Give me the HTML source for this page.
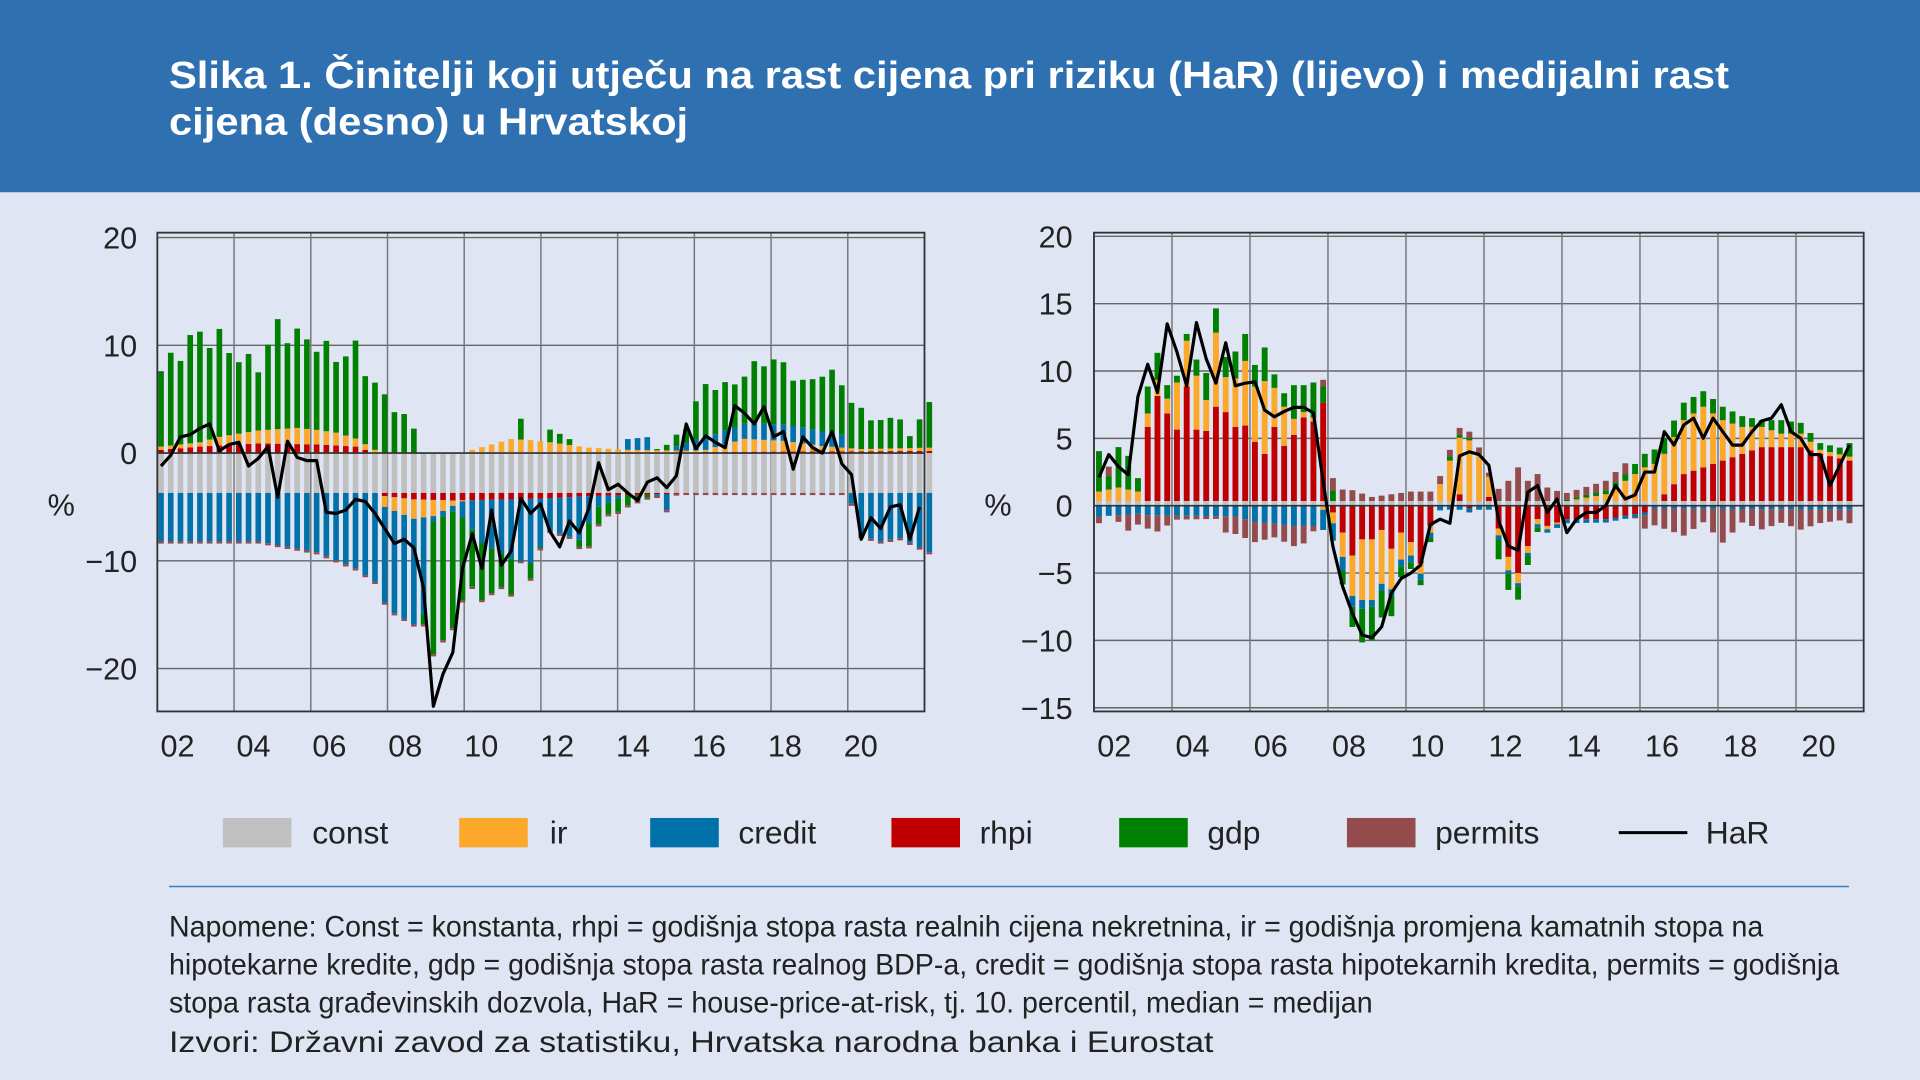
<!DOCTYPE html>
<html><head><meta charset="utf-8">
<style>
html,body{margin:0;padding:0;background:#dfe5f3;}
svg{display:block;}
text{font-family:"Liberation Sans",sans-serif;}
</style></head>
<body>
<svg id="s" width="1920" height="1080" viewBox="0 0 1568 882" xmlns="http://www.w3.org/2000/svg">
<rect x="0" y="0" width="1568" height="882" fill="#dfe5f3"/>
<rect x="0" y="0" width="1568" height="157" fill="#2f70b1"/>
<text x="138" y="72" font-size="31" font-weight="bold" fill="#fff" textLength="1274" lengthAdjust="spacingAndGlyphs">Slika 1. Činitelji koji utječu na rast cijena pri riziku (HaR) (lijevo) i medijalni rast</text>
<text x="138" y="110" font-size="31" font-weight="bold" fill="#fff" textLength="424" lengthAdjust="spacingAndGlyphs">cijena (desno) u Hrvatskoj</text>
<g id="charts"></g>
<g font-size="26" fill="#222">
<rect x="182" y="668" width="56" height="24" fill="#c0c0c0"/><text x="255" y="689">const</text>
<rect x="375" y="668" width="56" height="24" fill="#fba82b"/><text x="449" y="689">ir</text>
<rect x="531" y="668" width="56" height="24" fill="#0071a9"/><text x="603" y="689">credit</text>
<rect x="728" y="668" width="56" height="24" fill="#c00000"/><text x="800" y="689">rhpi</text>
<rect x="914" y="668" width="56" height="24" fill="#008000"/><text x="986" y="689">gdp</text>
<rect x="1100" y="668" width="56" height="24" fill="#944b4b"/><text x="1172" y="689">permits</text>
<line x1="1322" y1="680" x2="1378" y2="680" stroke="#000" stroke-width="2.5"/><text x="1393" y="689">HaR</text>
</g>
<line x1="138" y1="724" x2="1510" y2="724" stroke="#3a7cc0" stroke-width="1.2"/>
<g font-size="24" fill="#222">
<text x="138" y="765" textLength="1302" lengthAdjust="spacingAndGlyphs">Napomene: Const = konstanta, rhpi = godišnja stopa rasta realnih cijena nekretnina, ir = godišnja promjena kamatnih stopa na</text>
<text x="138" y="796" textLength="1364" lengthAdjust="spacingAndGlyphs">hipotekarne kredite, gdp = godišnja stopa rasta realnog BDP-a, credit = godišnja stopa rasta hipotekarnih kredita, permits = godišnja</text>
<text x="138" y="827" textLength="983" lengthAdjust="spacingAndGlyphs">stopa rasta građevinskih dozvola, HaR = house-price-at-risk, tj. 10. percentil, median = medijan</text>
<text x="138" y="859" textLength="853" lengthAdjust="spacingAndGlyphs">Izvori: Državni zavod za statistiku, Hrvatska narodna banka i Eurostat</text>
</g>
</svg>
<script>
(function(){
var NS="http://www.w3.org/2000/svg",G=document.getElementById("charts");
function el(t,a,txt){var e=document.createElementNS(NS,t);for(var k in a)e.setAttribute(k,a[k]);if(txt!=null)e.textContent=txt;G.appendChild(e);return e;}
function interp(kf,n){var o=[];for(var i=0;i<n;i++){var v=kf[kf.length-1][1];for(var j=0;j<kf.length-1;j++){if(i>=kf[j][0]&&i<=kf[j+1][0]){var t=(i-kf[j][0])/(kf[j+1][0]-kf[j][0]||1);v=kf[j][1]+t*(kf[j+1][1]-kf[j][1]);break;}}o.push(v);}return o;}
var COL={c:"#c0c0c0",r:"#c00000",i:"#fba82b",b:"#0071a9",g:"#008000",p:"#944b4b"};
function chart(o){
 var Y=function(v){return o.y0-v*o.k;};
 o.yt.forEach(function(v){el("line",{x1:o.L,x2:o.R,y1:Y(v),y2:Y(v),stroke:"#666","stroke-width":1.2});
   el("text",{x:o.lx,y:Y(v)+9,"font-size":25,"text-anchor":"end",fill:"#222"},(v<0?"\u2212"+(-v):""+v));});
 for(var k=1;k<10;k++){var x=o.L+k*o.gs;if(x<o.R-2)el("line",{x1:x,x2:x,y1:o.T,y2:o.B,stroke:"#777","stroke-width":1.2});}
 o.xl.forEach(function(s,j){el("text",{x:o.xl0+j*o.xs,y:618,"font-size":25,"text-anchor":"middle",fill:"#222"},s);});
 el("text",{x:o.px,y:421,"font-size":25,"text-anchor":"middle",fill:"#222"},"%");
 var n=o.n,d=o.d,order=["c","r","i","b","g","p"];
 for(var i=0;i<n;i++){var pos=0,neg=0,x=o.x0+i*o.bs;
  order.forEach(function(c){var v=d[c][i];if(Math.abs(v)<0.05)return;var y1,h;
   if(v>0){y1=Y(pos+v);h=v*o.k;pos+=v;}else{y1=Y(neg);h=-v*o.k;neg+=v;}
   el("rect",{x:x-o.bw/2,y:y1,width:o.bw,height:h,fill:COL[c]});});}
 el("line",{x1:o.L,x2:o.R,y1:Y(0),y2:Y(0),stroke:"#333","stroke-width":1.3});
 var pts=o.har.map(function(v,i){return (o.x0+i*o.bs).toFixed(1)+","+Y(v).toFixed(1);}).join(" ");
 el("polyline",{points:pts,fill:"none",stroke:"#000","stroke-width":2.6,"stroke-linejoin":"round"});
 el("rect",{x:o.L,y:o.T,width:o.R-o.L,height:o.B-o.T,fill:"none",stroke:"#333","stroke-width":1.5});
}
var nL=80;
var dL={
 c:interp([[0,-3.7],[79,-3.7]],nL),
 b:interp([[0,-4.5],[10,-4.5],[16,-5.5],[20,-7],[24,-9.5],[26,-9.8],[27,-9],[28,-0.5],[30,-0.5],[31,-1.5],[33,-4],[36,-5.5],[38,-6],[40,-3],[43,-4],[45,-1],[47,-0.3],[48,1],[50,1.2],[52,-1.5],[53,0.4],[55,1],[58,1.3],[62,1.5],[66,1.5],[70,1.2],[71,-1],[72,-4],[74,-4.5],[76,-4.2],[79,-5.5]],nL),
 g:interp([[0,7],[2,8.8],[4,10],[6,9],[8,7],[10,6],[12,9.5],[14,8.5],[16,8],[18,7],[20,8.2],[22,6],[24,4.3],[26,2.3],[27,-1],[28,-11],[29,-12.5],[30,-11],[31,-7],[32,-6],[34,-4],[36,-3],[37,2],[38,-1.5],[40,1.3],[42,0.5],[44,-2],[46,-1.2],[48,-1],[52,0.5],[54,1.5],[56,5],[58,4],[60,4.5],[62,6],[64,5.5],[66,4],[68,5.5],[70,5],[72,3.5],[74,2.5],[76,3],[77,1],[79,4.5]],nL),
 i:interp([[0,0.3],[4,0.4],[6,0.8],[10,1.2],[14,1.5],[18,1.2],[22,0.3],[23,-1],[26,-1.8],[28,-1.5],[30,-0.5],[32,0.3],[34,0.8],[36,1.3],[38,1.2],[40,1],[44,0.5],[48,0.3],[56,0.2],[60,1.2],[64,1],[68,0.5],[72,0.2],[79,0.3]],nL),
 r:interp([[0,0.3],[4,0.6],[10,0.9],[16,0.8],[20,0.6],[23,-0.3],[26,-0.6],[30,-0.7],[36,-0.6],[40,-0.5],[44,-0.3],[48,-0.2],[52,-0.1],[56,0.1],[79,0.2]],nL),
 p:interp([[0,-0.2],[79,-0.2]],nL)
};
for(var i=0;i<nL;i++){dL.g[i]*=1+0.12*Math.sin(i*2.3);}
var harL=[-1.2,-0.2,1.5,1.7,2.3,2.7,0.2,0.8,1.0,-1.2,-0.5,0.6,-4.1,1.1,-0.4,-0.7,-0.7,-5.5,-5.6,-5.3,-4.3,-4.5,-5.6,-7.0,-8.4,-8.0,-8.8,-12.5,-23.5,-20.5,-18.5,-10.7,-7.5,-10.7,-5.3,-10.4,-9.1,-4.2,-5.6,-4.7,-7.3,-8.7,-6.3,-7.4,-5.1,-0.9,-3.4,-2.9,-3.7,-4.4,-2.7,-2.3,-3.2,-2.1,2.7,0.4,1.6,1.0,0.5,4.4,3.7,2.7,4.3,1.5,2,-1.5,1.5,0.5,0,2,-1,-2,-8,-6,-7,-5,-4.8,-8,-5];
chart({L:128.5,R:755,T:190,B:581,y0:370,k:8.8,yt:[20,10,0,-10,-20],lx:112,gs:62.65,
 xl:["02","04","06","08","10","12","14","16","18","20"],xl0:145,xs:62,px:50,
 n:nL,d:dL,x0:131.5,bs:(751-131.5)/(harL.length-1),bw:4.6,har:harL});
var nR=78;
var dR={
 c:interp([[0,0.35],[77,0.35]],nR),
 r:interp([[0,0],[4,0],[5,5.5],[6,7.8],[7,6.5],[8,5.3],[9,8.5],[10,5.3],[11,5.2],[12,7],[13,6.6],[14,5.5],[15,5.6],[16,4.4],[17,3.5],[18,5.5],[19,4.1],[20,4.9],[21,6.2],[22,5.9],[23,7.3],[24,-0.5],[25,-2],[26,-3.7],[27,-2.5],[28,-2.5],[29,-1.8],[30,-3.2],[31,-2],[32,-2.7],[33,-4.3],[34,-1.5],[35,0],[36,0],[37,0.5],[38,-0.2],[39,0],[40,0.3],[41,-1.7],[42,-3.8],[43,-5],[44,-3],[45,-1],[46,-1.5],[48,-1],[52,-1],[56,-0.5],[58,0.5],[60,2],[64,3],[68,4],[72,4],[74,3.5],[77,3]],nR),
 i:interp([[0,0.7],[2,1],[4,0.7],[5,1],[6,1.2],[7,1.1],[8,3.5],[9,3.4],[10,4],[11,2.3],[12,5.5],[13,2.6],[14,3.6],[15,4.8],[16,4.1],[17,5.4],[18,2.9],[19,2.9],[20,1.2],[21,0.4],[22,0.3],[23,-0.3],[24,-0.8],[25,-1.8],[26,-3],[27,-4.5],[28,-4.5],[29,-4],[30,-3],[31,-2],[32,-1],[34,-0.5],[36,3],[37,4.2],[38,4.5],[39,3.5],[40,1.5],[41,-0.5],[42,-1],[44,-0.5],[48,0],[52,0.5],[54,1.5],[56,2.5],[58,3],[60,4],[62,4.5],[64,3],[66,2],[68,1.5],[70,1],[72,1],[74,0.3],[77,0.3]],nR),
 g:interp([[0,3],[1,1],[2,3],[3,2.5],[4,1],[5,2],[6,2],[7,1],[8,0.5],[9,0.5],[10,1.2],[11,2],[12,1.8],[13,1.5],[14,2],[15,2],[16,1.6],[17,2.5],[18,1],[19,1],[20,2.5],[21,2],[22,2.6],[23,1.2],[24,0.8],[25,-1],[26,-1.5],[27,-2.5],[28,-2.5],[29,-2],[30,-1.5],[31,-0.8],[32,-0.5],[34,-0.3],[36,0.3],[40,0],[41,-1.5],[42,-1.2],[43,-1],[44,-0.7],[46,0],[52,0.3],[54,0.5],[56,1],[60,1.3],[64,1],[66,0.8],[68,0.5],[70,1],[72,0.8],[74,0.5],[76,0.5],[77,1]],nR),
 b:interp([[0,-0.8],[4,-0.6],[5,-0.7],[14,-0.8],[16,-1.2],[20,-1.5],[23,-1.5],[24,-1.3],[26,-0.8],[28,-0.5],[32,-0.5],[36,-0.3],[40,-0.3],[44,-0.2],[48,-0.3],[56,-0.2],[77,-0.3]],nR),
 p:interp([[0,-0.5],[1,0.7],[2,-0.5],[3,-1.2],[4,-0.8],[5,-1],[6,-1.2],[8,-0.3],[12,-0.2],[13,-1.2],[16,-1.5],[18,-1],[20,-1.5],[21,-1.3],[23,0.5],[24,0.9],[26,0.8],[28,0.3],[30,0.5],[32,0.7],[34,0.7],[36,0.5],[38,0.5],[40,0.3],[42,1.5],[43,2.5],[44,1.5],[45,2],[46,1],[48,0.5],[52,0.7],[54,0.8],[56,-1],[58,-1.5],[60,-2],[62,-1],[64,-2.5],[66,-1],[68,-1.5],[70,-1],[72,-1.5],[74,-1],[76,-0.8],[77,-1]],nR)
};
var harR=[2.1,3.8,2.9,2.3,8.1,10.5,8.4,13.5,11.4,8.9,13.6,10.9,9.1,12.1,8.9,9.1,9.2,7.1,6.6,7.0,7.3,7.3,6.9,1.8,-3,-6,-8,-9.6,-9.8,-9,-6.5,-5.4,-5.0,-4.4,-1.4,-1.0,-1.3,3.7,4.0,3.8,3.0,-1.1,-3.0,-3.3,1,1.5,-0.5,0.5,-2,-1,-0.5,-0.5,0,1.5,0.5,0.8,2.5,2.5,5.5,4.5,6,6.5,5,6.5,5.5,4.5,4.5,5.5,6.3,6.5,7.5,5.5,5,3.8,3.8,1.5,3,4.5];
chart({L:893.4,R:1522,T:190,B:581,y0:413,k:11,yt:[20,15,10,5,0,-5,-10,-15],lx:876,gs:63.7,
 xl:["02","04","06","08","10","12","14","16","18","20"],xl0:910,xs:63.9,px:815,
 n:nR,d:dR,x0:897.5,bs:7.96,bw:4.8,har:harR});
})();
</script>
</body></html>
